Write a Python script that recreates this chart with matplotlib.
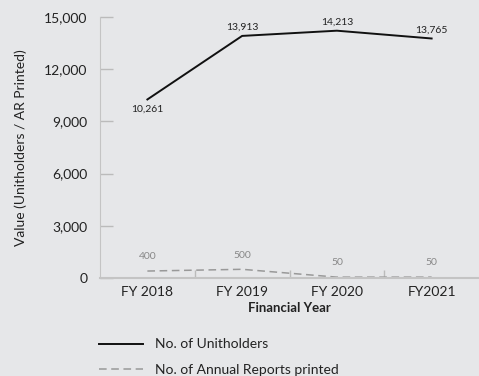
import matplotlib
matplotlib.use("Agg")
import matplotlib.pyplot as plt
from matplotlib.ticker import FuncFormatter, FixedLocator

plt.rcParams['font.family'] = ['Lato', 'DejaVu Sans']

years = ["FY 2018", "FY 2019", "FY 2020", "FY2021"]
unitholders = [10261, 13913, 14213, 13765]
reports = [400, 500, 50, 50]

bg = "#e6e7e9"
fig = plt.figure(figsize=(4.79, 3.76), dpi=100, facecolor=bg)
ax = fig.add_axes([100/479, 1-278/376, 1-100/479, (278-17)/376], facecolor=bg)

x = list(range(len(years)))
l1, = ax.plot(x, unitholders, color="#111111", lw=1.4, label="No. of Unitholders")
l2, = ax.plot(x, reports, color="#999999", lw=1.1, dashes=(5, 3), label="No. of Annual Reports printed")

for i, v in enumerate(unitholders):
    if i == 0:
        ax.annotate(f"{v:,}", (i, v), xytext=(0, -4), textcoords="offset points",
                    ha="center", va="top", fontsize=7.5, color="#222222")
    else:
        ax.annotate(f"{v:,}", (i, v), xytext=(0, 3), textcoords="offset points",
                    ha="center", va="bottom", fontsize=7.5, color="#222222")
for i, v in enumerate(reports):
    ax.annotate(f"{v:,}", (i, v), xytext=(0, 7), textcoords="offset points",
                ha="center", va="bottom", fontsize=7.5, color="#888888")

ax.set_xlim(-0.5, 3.5)
ax.set_ylim(0, 15000)
ax.set_xticks(x)
ax.set_xticklabels(years, fontsize=10, color="#222222")
ax.xaxis.set_minor_locator(FixedLocator([0.5, 1.5, 2.5]))
ax.tick_params(axis="x", which="major", length=0, pad=6)
ax.tick_params(axis="x", which="minor", direction="in", length=6, color="#bbbbbb", width=1)
ax.set_yticks([0, 3000, 6000, 9000, 12000, 15000])
ax.yaxis.set_major_formatter(FuncFormatter(lambda v, p: f"{int(v):,}"))
ax.tick_params(axis="y", direction="in", length=9, color="#bbbbbb", width=1,
               labelsize=10, labelcolor="#222222", pad=9)

for s in ["top", "right"]:
    ax.spines[s].set_visible(False)
ax.spines["left"].set_color("#c4c4c4")
ax.spines["bottom"].set_color("#c4c4c4")
ax.spines["bottom"].set_linewidth(1.5)

ax.set_xlabel("Financial Year", fontsize=9.5, fontweight="bold", color="#222222", labelpad=3)
ax.set_ylabel("Value (Unitholders / AR Printed)", fontsize=10, color="#222222", labelpad=12)

fig.legend(handles=[l1, l2], loc="upper left", bbox_to_anchor=(86/479, 1-326/376),
           frameon=False, fontsize=10, handlelength=3.2, labelspacing=0.95,
           handletextpad=0.85, labelcolor="#222222")

fig.savefig("out.png", dpi=100, facecolor=bg)
